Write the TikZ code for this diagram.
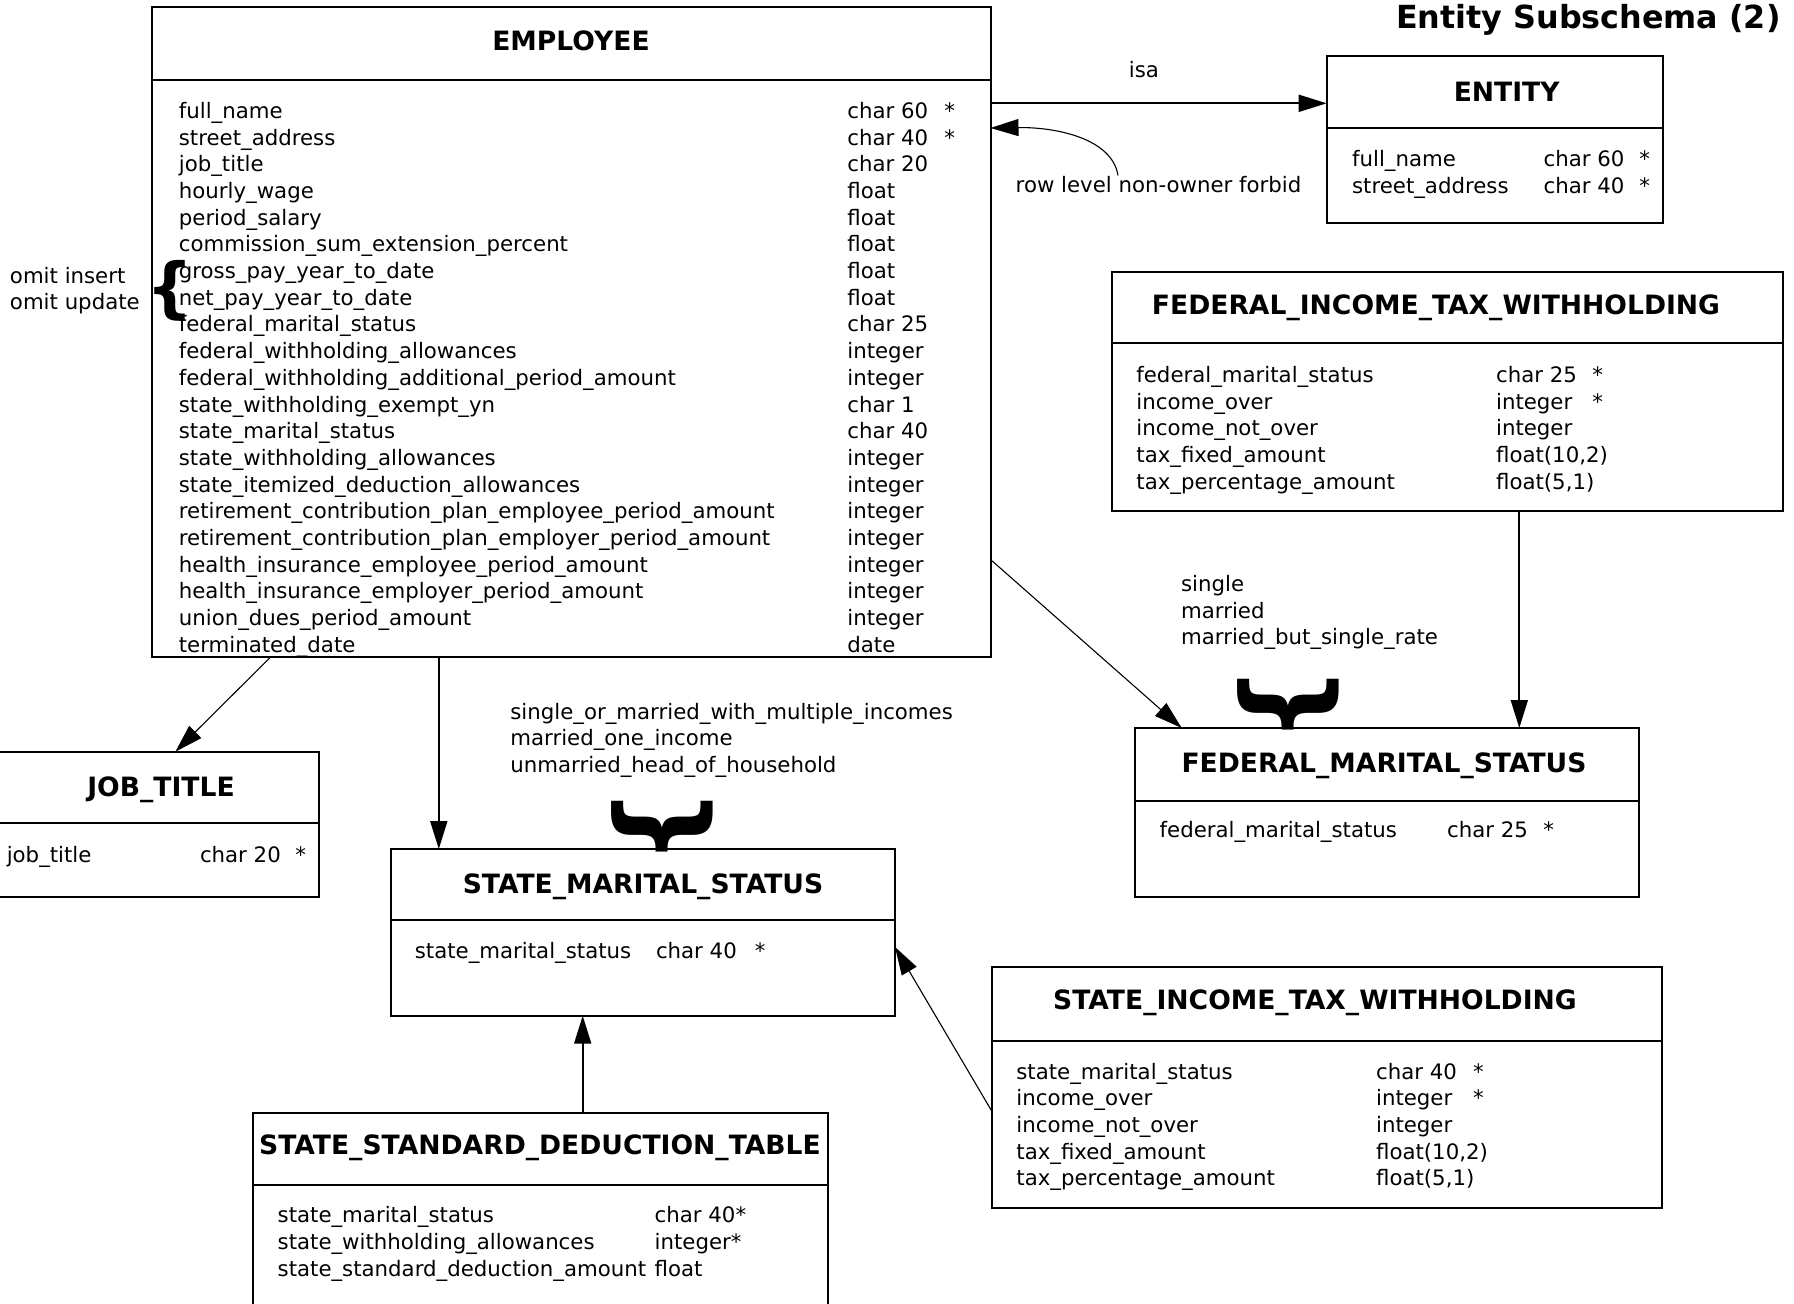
\documentclass[tikz,border=0pt]{standalone}
\usepackage{fontspec}
\setmainfont{DejaVu Sans}
\usetikzlibrary{arrows.meta,fit}

\tikzset{
  tblbox/.style={draw,line width=1pt,inner sep=0pt,outer sep=0pt},
  tblline/.style={line width=1pt},
  tblhead/.style={font=\bfseries\fontsize{13.3}{16}\selectfont,anchor=base,inner sep=0pt},
  tblfield/.style={font=\fontsize{10.64}{12.8}\selectfont,anchor=base west,inner sep=0pt},
  tblbrace/.style={font=\bfseries\fontsize{55}{55}\selectfont,inner sep=0pt,rotate=-90},
  tbllink/.style={line width=0.9pt,-{Triangle[length=14pt,width=8.5pt]}},
  thinlink/.style={tbllink,line width=0.55pt},
}

\begin{document}
\begin{tikzpicture}[x=0.5pt,y=-0.5pt]
  \useasboundingbox (0,0) rectangle (1794,1303);
  % Titre
  \node[font=\bfseries\fontsize{15.9}{19}\selectfont,anchor=base east,inner sep=0pt] (title) at (1781,28.5) {Entity Subschema (2)};

  % EMPLOYEE
  \node[tblbox,fit={(151.8,7.3) (990.5,656.7)}] (emp) {};
  \draw[tblline] (emp.west |- 0,80) -- (emp.east |- 0,80);
  \node[tblhead] (emp-h) at (571,50) {EMPLOYEE};
  \foreach \n/\t [count=\i from 0] in {full\_name/char 60,street\_address/char 40,job\_title/char 20,
      hourly\_wage/float,period\_salary/float,commission\_sum\_extension\_percent/float,
      gross\_pay\_year\_to\_date/float,net\_pay\_year\_to\_date/float,federal\_marital\_status/char 25,
      federal\_withholding\_allowances/integer,federal\_withholding\_additional\_period\_amount/integer,
      state\_withholding\_exempt\_yn/char 1,state\_marital\_status/char 40,
      state\_withholding\_allowances/integer,state\_itemized\_deduction\_allowances/integer,
      retirement\_contribution\_plan\_employee\_period\_amount/integer,
      retirement\_contribution\_plan\_employer\_period\_amount/integer,
      health\_insurance\_employee\_period\_amount/integer,health\_insurance\_employer\_period\_amount/integer,
      union\_dues\_period\_amount/integer,terminated\_date/date}{
    \node[tblfield] (emp-n\i) at (178.5,{118.3+26.7*\i}) {\n};
    \node[tblfield] (emp-t\i) at (847,{118.3+26.7*\i}) {\t};
  }
  \foreach \i in {0,1}{\node[tblfield] (emp-s\i) at (944,{118.3+26.7*\i}) {*};}
  % omit insert / omit update
  \node[tblfield] (omit-i) at (9.6,283) {omit insert};
  \node[tblfield] (omit-u) at (9.6,309) {omit update};
  \node[font=\bfseries\fontsize{33}{33}\selectfont,inner sep=0pt] (omit-br) at (170,291) {\{};

  % ENTITY
  \node[tblbox,fit={(1326.7,55.7) (1662.7,223.3)}] (ent) {};
  \draw[tblline] (ent.west |- 0,128.3) -- (ent.east |- 0,128.3);
  \node[tblhead] (ent-h) at (1506.7,101) {ENTITY};
  \foreach \n/\t [count=\i from 0] in {full\_name/char 60,street\_address/char 40}{
    \node[tblfield] (ent-n\i) at (1351.7,{166.7+26.7*\i}) {\n};
    \node[tblfield] (ent-t\i) at (1543.3,{166.7+26.7*\i}) {\t};
    \node[tblfield] (ent-s\i) at (1639,{166.7+26.7*\i}) {*};
  }

  % FEDERAL_INCOME_TAX_WITHHOLDING
  \node[tblbox,fit={(1111.7,272.3) (1783,510.7)}] (fitw) {};
  \draw[tblline] (fitw.west |- 0,343.3) -- (fitw.east |- 0,343.3);
  \node[tblhead] (fitw-h) at (1436,314) {FEDERAL\_INCOME\_TAX\_WITHHOLDING};
  \foreach \n/\t [count=\i from 0] in {federal\_marital\_status/char 25,income\_over/integer,
      income\_not\_over/integer,{tax\_fixed\_amount/float(10,2)},{tax\_percentage\_amount/float(5,1)}}{
    \node[tblfield] (fitw-n\i) at (1136,{382.3+26.7*\i}) {\n};
    \node[tblfield] (fitw-t\i) at (1495.7,{382.3+26.7*\i}) {\t};
  }
  \foreach \i in {0,1}{\node[tblfield] (fitw-s\i) at (1592,{382.3+26.7*\i}) {*};}

  % FEDERAL_MARITAL_STATUS
  \node[tblbox,fit={(1135,728) (1639,896.7)}] (fms) {};
  \draw[tblline] (fms.west |- 0,801) -- (fms.east |- 0,801);
  \node[tblhead] (fms-h) at (1384,772.3) {FEDERAL\_MARITAL\_STATUS};
  \node[tblfield] (fms-n0) at (1159.3,837.7) {federal\_marital\_status};
  \node[tblfield] (fms-t0) at (1446.7,837.7) {char 25};
  \node[tblfield] (fms-s0) at (1543,837.7) {*};
  \foreach \v [count=\i from 0] in {single,married,married\_but\_single\_rate}{
    \node[tblfield] (fms-v\i) at (1180.7,{591.7+26.3*\i}) {\v};
  }
  \node[tblbrace] (fms-br) at (1288,704.5) {\}};

  % JOB_TITLE
  \node[tblbox,fit={(-3,751.7) (319,896.7)}] (job) {};
  \draw[tblline] (job.west |- 0,823.3) -- (job.east |- 0,823.3);
  \node[tblhead] (job-h) at (161,796.7) {JOB\_TITLE};
  \node[tblfield] (job-n0) at (6.4,862.7) {job\_title};
  \node[tblfield] (job-t0) at (199.6,862.7) {char 20};
  \node[tblfield] (job-s0) at (295,862.7) {*};

  % STATE_MARITAL_STATUS
  \node[tblbox,fit={(391,849) (895,1015.7)}] (sms) {};
  \draw[tblline] (sms.west |- 0,920) -- (sms.east |- 0,920);
  \node[tblhead] (sms-h) at (643,893.3) {STATE\_MARITAL\_STATUS};
  \node[tblfield] (sms-n0) at (414.5,958.3) {state\_marital\_status};
  \node[tblfield] (sms-t0) at (655.6,958.3) {char 40};
  \node[tblfield] (sms-s0) at (754.5,958.3) {*};
  \foreach \v [count=\i from 0] in {single\_or\_married\_with\_multiple\_incomes,married\_one\_income,
      unmarried\_head\_of\_household}{
    \node[tblfield] (sms-v\i) at (510,{719+26.7*\i}) {\v};
  }
  \node[tblbrace] (sms-br) at (662.5,826.5) {\}};

  % STATE_INCOME_TAX_WITHHOLDING
  \node[tblbox,fit={(991.7,967.3) (1662.4,1208.3)}] (sitw) {};
  \draw[tblline] (sitw.west |- 0,1040.7) -- (sitw.east |- 0,1040.7);
  \node[tblhead] (sitw-h) at (1315,1009.6) {STATE\_INCOME\_TAX\_WITHHOLDING};
  \foreach \n/\t [count=\i from 0] in {state\_marital\_status/char 40,income\_over/integer,
      income\_not\_over/integer,{tax\_fixed\_amount/float(10,2)},{tax\_percentage\_amount/float(5,1)}}{
    \node[tblfield] (sitw-n\i) at (1016,{1079+26.7*\i}) {\n};
    \node[tblfield] (sitw-t\i) at (1375.7,{1079+26.7*\i}) {\t};
  }
  \foreach \i in {0,1}{\node[tblfield] (sitw-s\i) at (1472.7,{1079+26.7*\i}) {*};}

  % STATE_STANDARD_DEDUCTION_TABLE
  \node[tblbox,fit={(253.3,1113.3) (828.4,1312)}] (ssdt) {};
  \draw[tblline] (ssdt.west |- 0,1185) -- (ssdt.east |- 0,1185);
  \node[tblhead] (ssdt-h) at (540,1154) {STATE\_STANDARD\_DEDUCTION\_TABLE};
  \foreach \n/\t [count=\i from 0] in {state\_marital\_status/char 40*,state\_withholding\_allowances/integer*,
      state\_standard\_deduction\_amount/float}{
    \node[tblfield] (ssdt-n\i) at (277.3,{1222.7+26.7*\i}) {\n};
    \node[tblfield] (ssdt-t\i) at (654.3,{1222.7+26.7*\i}) {\t};
  }

  % Liens
  \draw[tbllink] (emp.east |- 0,103.3) -- (ent.west |- 0,103.3);
  \node[tblfield,anchor=base] (isa) at (1144,77) {isa};
  \node[tblfield] (forbid) at (1015.3,192) {row level non-owner forbid};
  \draw[thinlink] (forbid.north -| 1118,0) .. controls (1112,138) and (1055,127) .. (emp.east |- 0,128);
  \draw[thinlink] (emp.south -| 271,0) -- (job.north -| 175.4,0);
  \draw[tbllink] (emp.south -| 438.8,0) -- (sms.north -| 438.8,0);
  \draw[thinlink] (emp.east |- 0,559.5) -- (fms.north -| 1181.7,0);
  \draw[tbllink] (fitw.south -| 1519.3,0) -- (fms.north -| 1519.3,0);
  \draw[thinlink] (sitw.west |- 0,1111) -- (sms.east |- 0,947);
  \draw[tbllink] (ssdt.north -| 582.7,0) -- (sms.south -| 582.7,0);
\end{tikzpicture}
\end{document}
